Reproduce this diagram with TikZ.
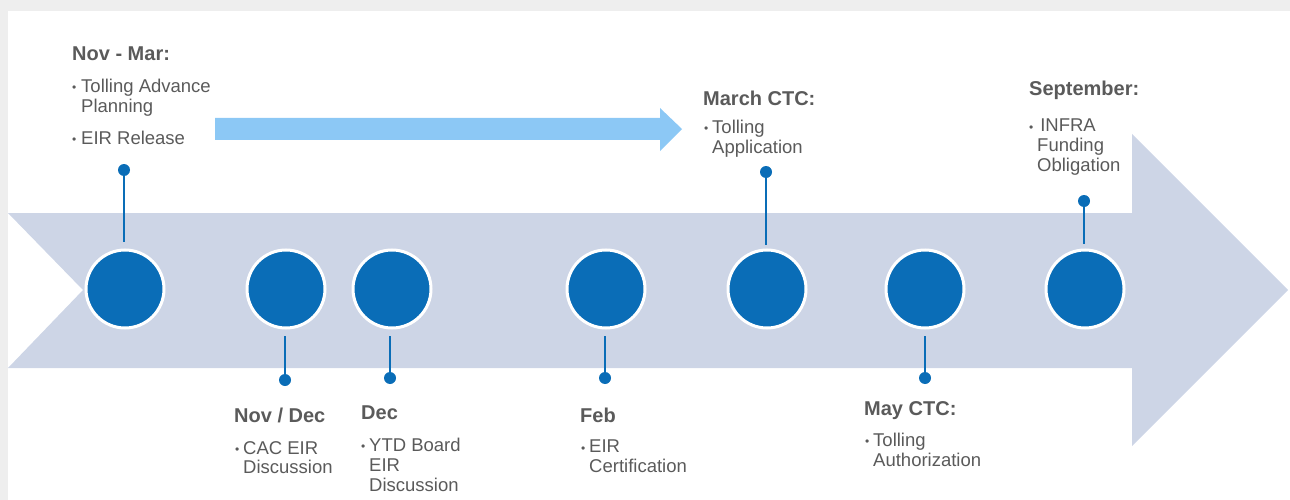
\documentclass[tikz,border=0pt]{standalone}
\usepackage{fontspec}
\setmainfont{Liberation Sans}
\definecolor{bigarrow}{HTML}{CDD5E6}
\definecolor{lightarrow}{HTML}{8CC8F5}
\definecolor{dotblue}{HTML}{0A6DB7}
\definecolor{txtgray}{HTML}{5A5A5A}
\definecolor{framegray}{HTML}{EEEEEE}
\tikzset{
  milestone/.style={circle,fill=dotblue,draw=white,line width=3pt,minimum size=78pt,inner sep=0pt},
  pin/.style={circle,fill=dotblue,minimum size=12pt,inner sep=0pt},
  stem/.style={draw=dotblue,line width=2.6pt},
  ttl/.style={anchor=west,inner sep=0pt,text=txtgray,font=\fontsize{20}{22}\selectfont\bfseries},
  bodytxt/.style={anchor=north west,inner sep=0pt,text=txtgray,align=left,font=\fontsize{18.5}{19.8}\selectfont},
  bul/.style={anchor=west,inner sep=0pt,text=txtgray,font=\fontsize{12}{12}\selectfont}
}
\begin{document}
\begin{tikzpicture}[x=1pt,y=-1pt]
\useasboundingbox (0,0) rectangle (1290,500);
% frame texture
\fill[framegray] (0,0) rectangle (1290,11);
\fill[framegray] (0,0) rectangle (8,500);
% big arrow
\fill[bigarrow] (8,213) -- (1132,213) -- (1132,134) -- (1288,290) -- (1132,446) -- (1132,368) -- (8,368) -- (83,290) -- cycle;
% light arrow
\fill[lightarrow] (215,118) -- (660,118) -- (660,108) -- (682,129) -- (660,151) -- (660,140) -- (215,140) -- cycle;
% milestones
\node[milestone] (m1) at (125,289) {};
\node[milestone] (m2) at (286,289) {};
\node[milestone] (m3) at (392,289) {};
\node[milestone] (m4) at (606,289) {};
\node[milestone] (m5) at (767,289) {};
\node[milestone] (m6) at (925,289) {};
\node[milestone] (m7) at (1085,289) {};
% pins
\node[pin] (p1) at (124,170) {};
\node[pin] (p5) at (766,172) {};
\node[pin] (p7) at (1084,201) {};
\node[pin] (p2) at (285,380) {};
\node[pin] (p3) at (390,378) {};
\node[pin] (p4) at (605,378) {};
\node[pin] (p6) at (925,378) {};
\coordinate (s1) at (124,242);
\coordinate (s5) at (766,245);
\coordinate (s7) at (1084,244);
\coordinate (s2) at (285,336);
\coordinate (s3) at (390,336);
\coordinate (s4) at (605,336);
\coordinate (s6) at (925,336);
\draw[stem] (p1.center) -- (s1);
\draw[stem] (p5.center) -- (s5);
\draw[stem] (p7.center) -- (s7);
\draw[stem] (p2.center) -- (s2);
\draw[stem] (p3.center) -- (s3);
\draw[stem] (p4.center) -- (s4);
\draw[stem] (p6.center) -- (s6);
% Nov - Mar
\node[ttl] (t1) at (72,54) {Nov - Mar:};
\node[bul] (b1a) at (72,89) {•};
\node[bodytxt] (x1a) at (81,79) {Tolling Advance\\Planning};
\node[bul] (b1b) at (72,141) {•};
\node[bodytxt] (x1b) at (81,131) {EIR Release};
% March CTC
\node[ttl] (t5) at (703,98) {March CTC:};
\node[bul] (b5) at (704,130) {•};
\node[bodytxt] (x5) at (712,120) {Tolling\\Application};
% September
\node[ttl] (t7) at (1029,90) {September:};
\node[bul] (b7) at (1029,129) {•};
\node[bodytxt] (x7) at (1037,119) {\,INFRA\\Funding\\Obligation};
% Nov / Dec
\node[ttl] (t2) at (234,415) {Nov / Dec};
\node[bul] (b2) at (235,451) {•};
\node[bodytxt] (x2) at (243,441) {CAC EIR\\Discussion};
% Dec
\node[ttl] (t3) at (361,413) {Dec};
\node[bul] (b3) at (361,448) {•};
\node[bodytxt] (x3) at (369,438) {YTD Board\\EIR\\Discussion};
% Feb
\node[ttl] (t4) at (580,415) {Feb};
\node[bul] (b4) at (581,450) {•};
\node[bodytxt] (x4) at (589,440) {EIR\\Certification};
% May CTC
\node[ttl] (t6) at (864,411) {May CTC:};
\node[bul] (b6) at (865,443) {•};
\node[bodytxt] (x6) at (873,433) {Tolling\\Authorization};
\end{tikzpicture}
\end{document}
